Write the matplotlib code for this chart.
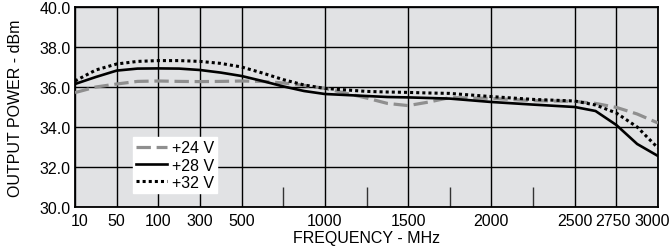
import matplotlib
matplotlib.use("Agg")
import matplotlib.pyplot as plt
import matplotlib.transforms as mtransforms
import numpy as np

plt.rcParams['font.family'] = ['Liberation Sans', 'DejaVu Sans']

# eje X no uniforme: frecuencias marcadas y su posicion relativa en el grafico
tick_freqs = [10, 50, 100, 300, 500, 1000, 1500, 2000, 2500, 2750, 3000]
tick_units = [0, 1, 2, 3, 4, 6, 8, 10, 12, 13, 14]
minor_freqs = [750, 1250, 1750, 2250]

freq = [10, 30, 50, 75, 100, 200, 300, 400, 500, 625, 750, 875, 1000,
        1250, 1375, 1500, 1625, 1750, 2000, 2250, 2500, 2625, 2750, 2875, 3000]
p24 = [35.72, 36.0, 36.15, 36.28, 36.3, 36.28, 36.27, 36.28, 36.3, 36.28, 36.2, 36.08, 35.93,
       35.45, 35.18, 35.07, 35.25, 35.47, 35.43, 35.32, 35.28, 35.18, 34.98, 34.65, 34.2]
p28 = [36.15, 36.5, 36.82, 36.92, 36.93, 36.92, 36.85, 36.72, 36.55, 36.3, 36.03, 35.8, 35.65,
       35.55, 35.5, 35.48, 35.45, 35.42, 35.25, 35.12, 35.0, 34.8, 34.1, 33.15, 32.55]
p32 = [36.3, 36.85, 37.15, 37.28, 37.32, 37.32, 37.28, 37.18, 37.0, 36.7, 36.37, 36.1, 35.93,
       35.78, 35.75, 35.73, 35.7, 35.68, 35.52, 35.38, 35.3, 35.1, 34.7, 34.0, 32.95]


def fwd(f):
    return np.interp(f, tick_freqs, tick_units)


def inv(u):
    return np.interp(u, tick_units, tick_freqs)


fig = plt.figure(figsize=(6.72, 2.53), dpi=100)
ax = fig.add_axes([75 / 672, 1 - 208 / 253, 583 / 672, 200 / 253])
ax.set_facecolor('#e1e2e4')
ax.set_xscale('function', functions=(fwd, inv))
ax.set_xlim(10, 3000)
ax.set_ylim(30, 40)

ax.plot(freq, p24, color='#8f8f8f', lw=2.3, dashes=(4.5, 1.8), label='+24 V', zorder=3)
ax.plot(freq, p28, color='black', lw=1.9, label='+28 V', zorder=4)
ax.plot(freq, p32, color='black', lw=2.2, dashes=(1.0, 1.0), label='+32 V', zorder=5)

ax.set_xticks(tick_freqs)
ax.set_xticklabels([str(f) for f in tick_freqs])
ax.set_xticks(minor_freqs, minor=True)
ax.set_yticks([30, 32, 34, 36, 38, 40])
ax.set_yticklabels(['30.0', '32.0', '34.0', '36.0', '38.0', '40.0'])
ax.tick_params(which='major', length=0, labelsize=11.5, pad=3)
ax.tick_params(axis='x', which='major', pad=4)
ax.tick_params(which='minor', direction='in', length=14.5, width=1.0, color='#333333')
ax.grid(True, which='major', color='black', lw=1.0, zorder=1)
for s in ax.spines.values():
    s.set_linewidth(1.3)

# algunas etiquetas corridas hacia adentro como en el original
xlabels = ax.get_xticklabels()
for idx, dx in [(0, 5), (9, -3), (10, -6)]:
    xlabels[idx].set_transform(xlabels[idx].get_transform() +
                               mtransforms.ScaledTranslation(dx / 100, 0, fig.dpi_scale_trans))

ax.set_xlabel('FREQUENCY - MHz', fontsize=11.5, labelpad=2)
ax.set_ylabel('OUTPUT POWER - dBm', fontsize=11.5, labelpad=12)

leg = ax.legend(loc='upper left', bbox_to_anchor=(0.1, 0.35), frameon=True,
                fancybox=False, framealpha=1, edgecolor='white', fontsize=11.5,
                handlelength=1.9, handletextpad=0.3, borderpad=0.2,
                labelspacing=0.15, borderaxespad=0)
leg.set_zorder(10)

fig.savefig('out.png', dpi=100)
